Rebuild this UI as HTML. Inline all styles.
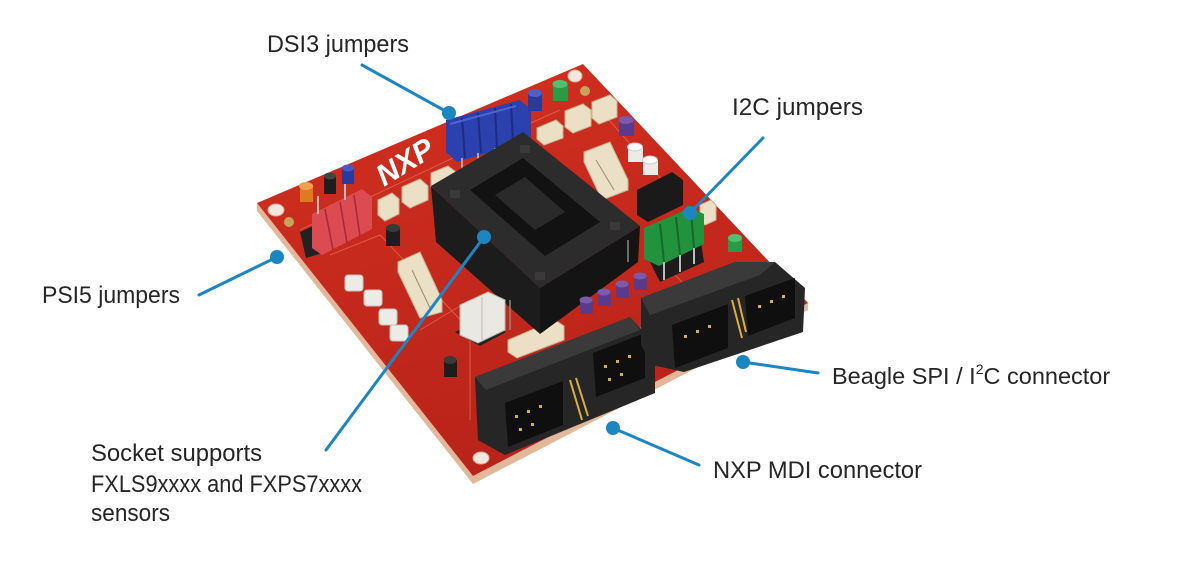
<!DOCTYPE html>
<html><head><meta charset="utf-8">
<style>
html,body{margin:0;padding:0;background:#fff;}
svg{display:block;}
text{font-family:"Liberation Sans",sans-serif;fill:#262626;}
</style></head>
<body>
<svg width="1185" height="563" viewBox="0 0 1185 563" xmlns="http://www.w3.org/2000/svg">
<defs>
<linearGradient id="brd" x1="0" y1="0" x2="0.3" y2="1">
<stop offset="0" stop-color="#d2301f"/>
<stop offset="1" stop-color="#b9231a"/>
</linearGradient>
</defs>
<!-- board edge/thickness -->
<polygon points="257,203 473,476 808,303 808,310 473,484 257,211" fill="#e2b79a"/>
<!-- board top -->
<polygon points="257,203 583,64 808,303 473,476" fill="url(#brd)"/>
<!-- silkscreen lines -->
<g stroke="#e4705f" stroke-width="1" fill="none" opacity="0.7">
<polyline points="300,230 470,150 560,110"/>
<polyline points="330,255 380,235 470,330 470,420"/>
<polyline points="420,330 470,300"/>
<polyline points="560,360 660,320 720,290"/>
<polyline points="660,260 700,300 760,280"/>
<polyline points="600,110 680,200"/>
</g>
<!-- mounting holes & pads -->
<ellipse cx="276" cy="210" rx="8" ry="6" fill="#f3e7e0" stroke="#e0a898"/>
<circle cx="289" cy="222" r="5" fill="#c9a35a"/>
<ellipse cx="575" cy="76" rx="7" ry="6" fill="#f3e7e0" stroke="#e0a898"/>
<circle cx="585" cy="91" r="5" fill="#c9a35a"/>
<ellipse cx="481" cy="458" rx="8" ry="6" fill="#f3e7e0" stroke="#e0a898"/>
<ellipse cx="787" cy="302" rx="8" ry="6" fill="#f3e7e0" stroke="#e0a898"/>
<!-- NXP logo -->
<text x="405" y="172" font-size="30" font-weight="bold" font-style="italic" text-anchor="middle" transform="rotate(-32 405 162)" style="fill:#fff">NXP</text>
<!-- red jumpers (PSI5) -->
<polygon points="300,232 322,222 326,252 306,258" fill="#222"/>
<polygon points="312,214 362,189 372,197 372,229 322,255 312,248" fill="#dc4a52"/>
<g stroke="#a8283a" stroke-width="1.5"><line x1="325" y1="209" x2="333" y2="250"/><line x1="340" y1="202" x2="347" y2="243"/><line x1="354" y1="195" x2="360" y2="236"/></g>
<g stroke="#bbb" stroke-width="2"><line x1="318" y1="196" x2="318" y2="214"/><line x1="345" y1="182" x2="345" y2="200"/></g>
<!-- posts left top -->
<rect x="300" y="186" width="13" height="16" fill="#e07a20"/><ellipse cx="306" cy="186" rx="7" ry="4" fill="#f0a050"/>
<rect x="324" y="176" width="12" height="18" fill="#1d1d1d"/><ellipse cx="330" cy="176" rx="6" ry="3.5" fill="#444"/>
<rect x="342" y="168" width="12" height="16" fill="#2a3a9a"/><ellipse cx="348" cy="168" rx="6" ry="3.5" fill="#4a5ac0"/>
<rect x="386" y="228" width="14" height="18" fill="#1d1d1d"/><ellipse cx="393" cy="228" rx="7" ry="4" fill="#3a3a3a"/>
<rect x="444" y="360" width="13" height="17" fill="#1d1d1d"/><ellipse cx="450" cy="360" rx="6.5" ry="4" fill="#3a3a3a"/>
<!-- test points (white) -->
<g fill="#ecebe6" stroke="#c8c4bc">
<rect x="345" y="275" width="18" height="16" rx="3"/><rect x="364" y="290" width="18" height="16" rx="3"/>
<rect x="379" y="309" width="18" height="16" rx="3"/><rect x="390" y="325" width="18" height="16" rx="3"/>
</g>
<!-- cream connectors -->
<g fill="#ebdfc6" stroke="#c7b594" stroke-width="1">
<polygon points="378,200 392,193 399,199 399,214 385,221 378,215"/>
<polygon points="402,187 420,179 428,186 428,200 410,208 402,202"/>
<polygon points="431,173 448,166 456,172 456,186 439,193 431,187"/>
<polygon points="537,128 556,120 563,126 563,138 544,145 537,139"/>
<polygon points="565,111 583,104 591,110 591,126 573,133 565,127"/>
<polygon points="592,102 610,95 617,101 617,117 599,124 592,118"/>
<polygon points="584,152 610,142 628,180 628,190 602,200 584,162"/>
<polygon points="398,262 420,252 442,300 442,312 420,318 398,272"/>
<polygon points="508,340 555,320 564,326 564,340 517,358 508,352"/>
<polygon points="700,205 711,200 716,205 716,220 705,225 700,220"/>
</g>
<g stroke="#9a8a70" stroke-width="1"><line x1="412" y1="270" x2="430" y2="308"/><line x1="596" y1="160" x2="614" y2="190"/></g>
<!-- blue jumpers DSI3 -->
<polygon points="446,120 520,100 531,110 531,140 457,162 446,152" fill="#2b41ad"/>
<g stroke="#1b2c85" stroke-width="2"><line x1="462" y1="118" x2="465" y2="158"/><line x1="478" y1="113" x2="481" y2="153"/><line x1="495" y1="108" x2="497" y2="148"/><line x1="511" y1="104" x2="513" y2="143"/></g>
<g stroke="#4c64d0" stroke-width="2"><line x1="450" y1="124" x2="516" y2="106"/></g>
<g stroke="#a8a8a8" stroke-width="2"><line x1="462" y1="158" x2="462" y2="178"/><line x1="478" y1="153" x2="478" y2="172"/><line x1="495" y1="148" x2="495" y2="166"/><line x1="511" y1="143" x2="511" y2="160"/></g>
<!-- top posts -->
<rect x="528" y="93" width="14" height="18" fill="#2a3a9a"/><ellipse cx="535" cy="93" rx="7" ry="4" fill="#5060c0"/>
<rect x="553" y="84" width="15" height="17" fill="#2a9a45"/><ellipse cx="560" cy="84" rx="7.5" ry="4" fill="#50c070"/>
<rect x="619" y="120" width="15" height="16" fill="#5a3a8a"/><ellipse cx="626" cy="120" rx="7.5" ry="4" fill="#7a5aaa"/>
<rect x="628" y="147" width="15" height="15" fill="#ecebe6"/><ellipse cx="635" cy="147" rx="7.5" ry="4" fill="#fff" stroke="#ccc"/>
<rect x="643" y="160" width="15" height="15" fill="#ecebe6"/><ellipse cx="650" cy="160" rx="7.5" ry="4" fill="#fff" stroke="#ccc"/>
<rect x="728" y="238" width="14" height="14" fill="#2a9a45"/><ellipse cx="735" cy="238" rx="7" ry="4" fill="#50c070"/>
<!-- socket -->
<polygon points="431,186 540,288 540,334 436,242" fill="#1c1c1c"/>
<polygon points="540,288 640,226 638,262 540,334" fill="#141414"/>
<polygon points="431,186 523,132 640,226 540,288" fill="#2c2c2c"/>
<polygon points="470,190 523,158 600,222 545,256" fill="#121212"/>
<polygon points="495,195 525,177 565,212 535,230" fill="#2a2a2a"/>
<g fill="#3a3a3a"><rect x="450" y="190" width="10" height="8"/><rect x="520" y="145" width="10" height="8"/><rect x="610" y="222" width="10" height="8"/><rect x="535" y="272" width="10" height="8"/></g>
<g stroke="#888" stroke-width="1.5"><line x1="510" y1="300" x2="510" y2="330"/><line x1="628" y1="240" x2="628" y2="262"/></g>
<!-- black jumper -->
<polygon points="637,190 672,172 683,180 683,205 648,222 637,215" fill="#1a1a1a"/>
<!-- green jumpers -->
<polygon points="648,258 700,236 704,262 660,282" fill="#1c1c1c"/>
<polygon points="644,228 690,208 704,214 704,244 659,266 644,259" fill="#22923f"/>
<g stroke="#146a2a" stroke-width="2"><line x1="660" y1="224" x2="664" y2="262"/><line x1="676" y1="217" x2="680" y2="255"/><line x1="691" y1="211" x2="694" y2="248"/></g>
<g stroke="#bbb" stroke-width="2"><line x1="664" y1="262" x2="664" y2="280"/><line x1="680" y1="255" x2="680" y2="272"/><line x1="694" y1="248" x2="694" y2="264"/></g>
<!-- white jumper -->
<polygon points="455,332 482,320 506,332 480,346" fill="#222"/>
<polygon points="460,305 488,292 505,300 505,330 478,343 460,335" fill="#e9e8e3" stroke="#bdbab2"/>
<line x1="482" y1="297" x2="482" y2="340" stroke="#bdbab2"/>
<!-- purple posts -->
<g>
<rect x="580" y="300" width="13" height="14" fill="#5a3a8a"/><ellipse cx="586" cy="300" rx="6.5" ry="3.5" fill="#7a5aaa"/>
<rect x="598" y="292" width="13" height="14" fill="#5a3a8a"/><ellipse cx="604" cy="292" rx="6.5" ry="3.5" fill="#7a5aaa"/>
<rect x="616" y="284" width="13" height="14" fill="#5a3a8a"/><ellipse cx="622" cy="284" rx="6.5" ry="3.5" fill="#7a5aaa"/>
<rect x="634" y="276" width="13" height="14" fill="#5a3a8a"/><ellipse cx="640" cy="276" rx="6.5" ry="3.5" fill="#7a5aaa"/>
</g>
<!-- MDI connector -->
<polygon points="475,377 630,317 655,345 655,393 505,455 478,440" fill="#262626"/>
<polygon points="475,377 630,317 640,330 486,390" fill="#3a3a3a"/>
<polygon points="505,403 563,381 563,425 508,447" fill="#0f0f0f"/>
<polygon points="593,353 645,333 645,378 596,397" fill="#0f0f0f"/>
<g fill="#d9b040">
<rect x="515" y="415" width="3" height="3"/><rect x="527" y="410" width="3" height="3"/><rect x="539" y="405" width="3" height="3"/><rect x="519" y="428" width="3" height="3"/><rect x="531" y="423" width="3" height="3"/>
<rect x="604" y="365" width="3" height="3"/><rect x="616" y="360" width="3" height="3"/><rect x="628" y="355" width="3" height="3"/><rect x="608" y="378" width="3" height="3"/><rect x="620" y="373" width="3" height="3"/>
</g>
<g stroke="#d9b040" stroke-width="2"><line x1="570" y1="380" x2="582" y2="420"/><line x1="576" y1="378" x2="588" y2="416"/></g>
<!-- Beagle connector -->
<polygon points="641,298 735,262 775,262 805,288 803,332 684,372 652,365 641,345" fill="#262626"/>
<polygon points="641,298 735,262 775,262 760,275 650,315" fill="#3a3a3a"/>
<polygon points="672,325 728,304 728,348 675,368" fill="#0f0f0f"/>
<polygon points="745,296 795,278 795,318 748,336" fill="#0f0f0f"/>
<g fill="#d9b040">
<rect x="684" y="335" width="3" height="3"/><rect x="696" y="330" width="3" height="3"/><rect x="708" y="325" width="3" height="3"/>
<rect x="758" y="305" width="3" height="3"/><rect x="770" y="300" width="3" height="3"/><rect x="782" y="295" width="3" height="3"/>
</g>
<g stroke="#d9b040" stroke-width="2"><line x1="732" y1="300" x2="742" y2="338"/><line x1="738" y1="298" x2="746" y2="332"/></g>
<!-- callouts -->
<g stroke="#1b86c2" stroke-width="3" stroke-linecap="round">
<line x1="362" y1="65" x2="449" y2="113"/>
<line x1="763" y1="138" x2="690" y2="213"/>
<line x1="199" y1="295" x2="277" y2="257"/>
<line x1="326" y1="450" x2="484" y2="237"/>
<line x1="743" y1="362" x2="818" y2="373"/>
<line x1="613" y1="428" x2="699" y2="465"/>
</g>
<g fill="#1b86c2">
<circle cx="449" cy="113" r="7"/>
<circle cx="690" cy="213" r="7"/>
<circle cx="277" cy="257" r="7"/>
<circle cx="484" cy="237" r="7"/>
<circle cx="743" cy="362" r="7"/>
<circle cx="613" cy="428" r="7"/>
</g>
<!-- labels -->
<text x="267" y="52" font-size="24" textLength="142" lengthAdjust="spacingAndGlyphs">DSI3 jumpers</text>
<text x="732" y="115" font-size="24" textLength="131" lengthAdjust="spacingAndGlyphs">I2C jumpers</text>
<text x="42" y="303" font-size="24" textLength="138" lengthAdjust="spacingAndGlyphs">PSI5 jumpers</text>
<text x="91" y="461" font-size="24" textLength="171" lengthAdjust="spacingAndGlyphs">Socket supports</text>
<text x="91" y="492" font-size="24" textLength="271" lengthAdjust="spacingAndGlyphs">FXLS9xxxx and FXPS7xxxx</text>
<text x="91" y="521" font-size="24" textLength="79" lengthAdjust="spacingAndGlyphs">sensors</text>
<text x="832" y="384" font-size="23.5">Beagle SPI / I<tspan font-size="14" dy="-10">2</tspan><tspan font-size="23.5" dy="10">C connector</tspan></text>
<text x="713" y="478" font-size="24" textLength="209" lengthAdjust="spacingAndGlyphs">NXP MDI connector</text>
</svg>
</body></html>
